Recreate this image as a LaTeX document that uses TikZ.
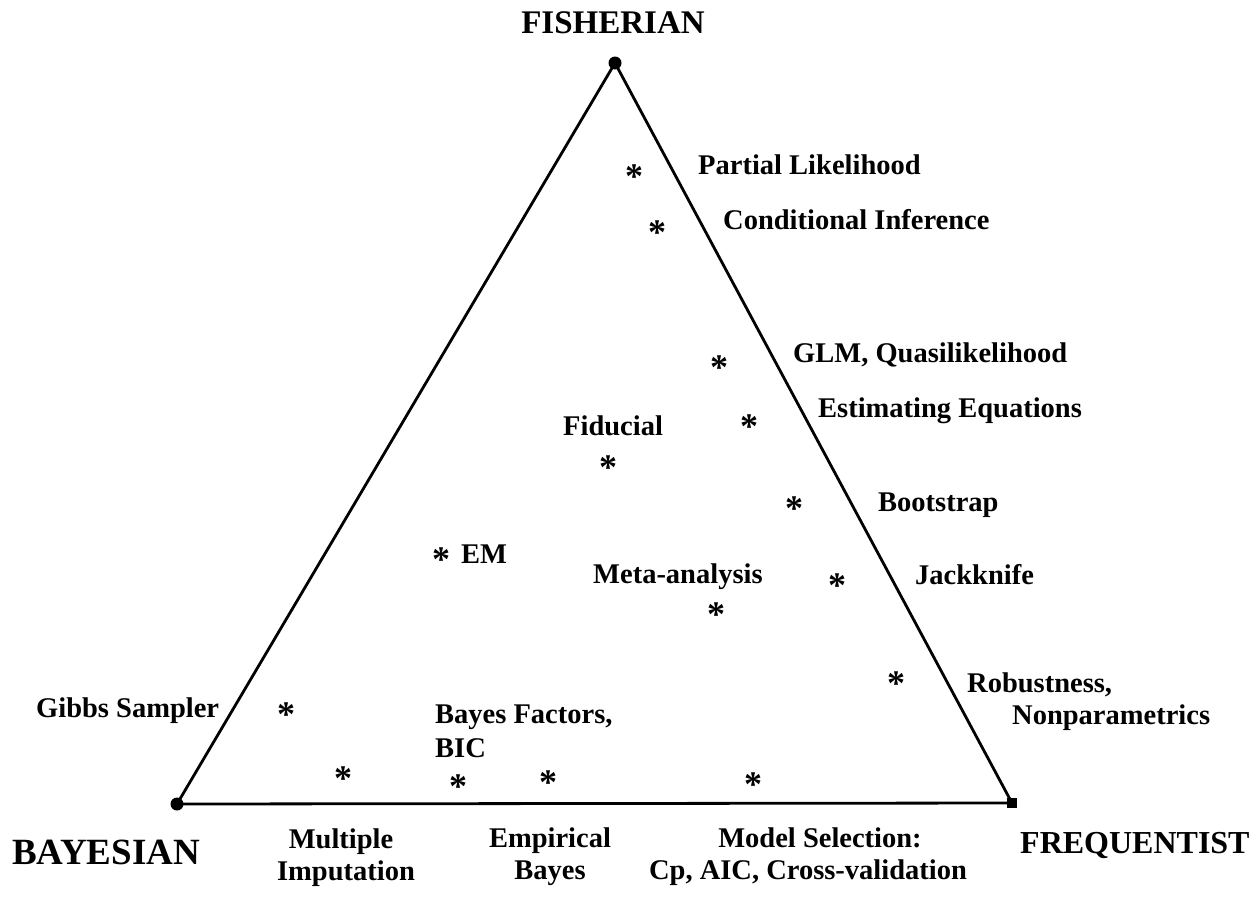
\documentclass[tikz,border=0pt]{standalone}
\usepackage{fontspec}
\setmainfont{Liberation Serif}
\begin{document}
\begin{tikzpicture}[x=1pt,y=-1pt,
  lab/.style={inner sep=0pt,anchor=base west,font=\fontsize{28.5}{34}\selectfont\bfseries},
  labc/.style={inner sep=0pt,anchor=base,font=\fontsize{28.5}{34}\selectfont\bfseries},
  head/.style={inner sep=0pt,font=\fontsize{#1}{#1}\selectfont\bfseries},
  ast/.style={inner sep=0pt,anchor=base,yshift=-17pt,font=\fontsize{36}{36}\selectfont\bfseries},
  vdot/.style={circle,fill=black,inner sep=0pt,minimum size=13pt},
  vsq/.style={rectangle,fill=black,inner sep=0pt,minimum size=10pt},
  edge/.style={line width=2.8pt,line join=round}]
\useasboundingbox (0,0) rectangle (1250,897);
% vertices
\node[vdot] (F) at (615,63) {};
\node[vdot] (B) at (177,804) {};
\node[vsq] (Q) at (1012,803) {};
\draw[edge] (F.center) -- (B.center) -- (Q.center) -- cycle;
% corner labels
\node[head=33,anchor=base] (tF) at (613,33) {FISHERIAN};
\node[head=37,anchor=base west] (tB) at (12,864) {BAYESIAN};
\node[head=32,anchor=base west] (tQ) at (1020,853) {FREQUENTIST};
% asterisks
\node[ast] (s1) at (634,171) {*};
\node[ast] (s2) at (657,227) {*};
\node[ast] (s3) at (719,362) {*};
\node[ast] (s4) at (749,421) {*};
\node[ast] (s5) at (608,462) {*};
\node[ast] (s6) at (794,503) {*};
\node[ast] (s7) at (837,580) {*};
\node[ast] (s8) at (716,609) {*};
\node[ast] (s9) at (441,554) {*};
\node[ast] (s10) at (896,678) {*};
\node[ast] (s11) at (286,709) {*};
\node[ast] (s12) at (343,773) {*};
\node[ast] (s13) at (458,781) {*};
\node[ast] (s14) at (548,777) {*};
\node[ast] (s15) at (753,779) {*};
% labels
\node[lab] (l1) at (698,174) {Partial Likelihood};
\node[lab] (l2) at (723,229) {Conditional Inference};
\node[lab] (l3) at (793,362) {GLM, Quasilikelihood};
\node[lab] (l4) at (818,417) {Estimating Equations};
\node[lab] (l5) at (563,435) {Fiducial};
\node[lab] (l6) at (878,511) {Bootstrap};
\node[lab] (l7) at (461,563) {EM};
\node[lab] (l8) at (593,583) {Meta-analysis};
\node[lab] (l9) at (915,584) {Jackknife};
\node[lab] (l10) at (967,692) {Robustness,};
\node[lab] (l11) at (1012,724) {Nonparametrics};
\node[lab] (l12) at (36,717) {Gibbs Sampler};
\node[lab] (l13) at (435,723) {Bayes Factors,};
\node[lab] (l14) at (435,757) {BIC};
\node[labc] (l15) at (341,848) {Multiple};
\node[labc] (l16) at (346,880) {Imputation};
\node[labc] (l17) at (550,847) {Empirical};
\node[labc] (l18) at (550,879) {Bayes};
\node[labc] (l19) at (820,847) {Model Selection:};
\node[labc] (l20) at (808,879) {Cp, AIC, Cross-validation};
\end{tikzpicture}
\end{document}
